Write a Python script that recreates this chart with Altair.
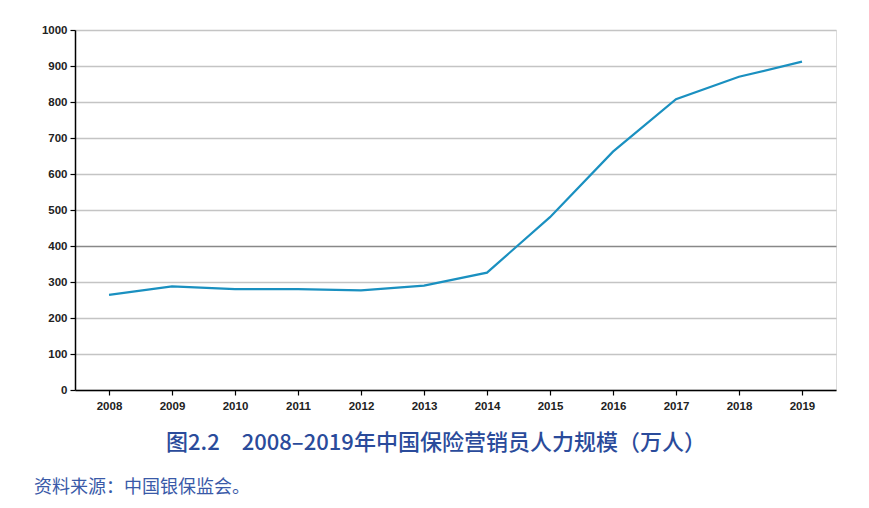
import altair as alt
import pandas as pd

years = ["2008", "2009", "2010", "2011", "2012", "2013", "2014", "2015", "2016", "2017", "2018", "2019"]
agents = [264, 288, 280, 280, 277, 290, 326, 480, 662, 808, 870, 912]
y_ticks = [0, 100, 200, 300, 400, 500, 600, 700, 800, 900, 1000]

title_text = "图2.2　2008–2019年中国保险营销员人力规模（万人）"
source_text = "资料来源：中国银保监会。"

df = pd.DataFrame({"year": years, "agents": agents})

W, H = 761, 360

base = alt.Chart(df)

line = base.mark_line(color="#1a90c0", strokeWidth=2.2).encode(
    x=alt.X(
        "year:O",
        scale=alt.Scale(type="point", padding=0.54),
        axis=alt.Axis(
            title=None, labelAngle=0, domainColor="#000", domainWidth=1.5,
            tickColor="#000", tickSize=5, tickWidth=1.2, labelPadding=5,
            labelFont="Liberation Sans", labelFontSize=11.5, labelFontWeight="bold",
            labelColor="#222", grid=False,
        ),
    ),
    y=alt.Y(
        "agents:Q",
        scale=alt.Scale(domain=[0, 1000], nice=False),
        axis=alt.Axis(
            title=None, values=y_ticks, format="d", domainColor="#000", domainWidth=1.5,
            tickColor="#000", tickSize=5, tickWidth=1.2, labelPadding=3,
            labelFont="Liberation Sans", labelFontSize=11.5, labelFontWeight="bold",
            labelColor="#222", grid=True,
            gridColor=alt.condition(alt.datum.value == 400, alt.value("#888888"), alt.value("#c4c4c4")),
            gridWidth=1.5,
        ),
    ),
)

title = alt.Chart(pd.DataFrame({"t": [title_text]})).mark_text(
    font="Noto Sans CJK SC", fontSize=22, fontWeight=500, color="#2a4b9b",
    align="center", baseline="middle",
).encode(text="t:N", x=alt.value(361), y=alt.value(413))

source = alt.Chart(pd.DataFrame({"t": [source_text]})).mark_text(
    font="Noto Sans CJK SC", fontSize=18, fontWeight=400, color="#3a5aa8",
    align="left", baseline="middle",
).encode(text="t:N", x=alt.value(-41), y=alt.value(458))

chart = alt.layer(line, title, source).properties(
    width=W, height=H,
    autosize=alt.AutoSizeParams(type="none"),
    padding={"left": 67, "top": 22, "right": 25, "bottom": 110},
).configure_view(stroke="#000", strokeWidth=1.5).configure(background="white")

chart.save("out.html", embed_options={"renderer": "svg", "actions": False})
